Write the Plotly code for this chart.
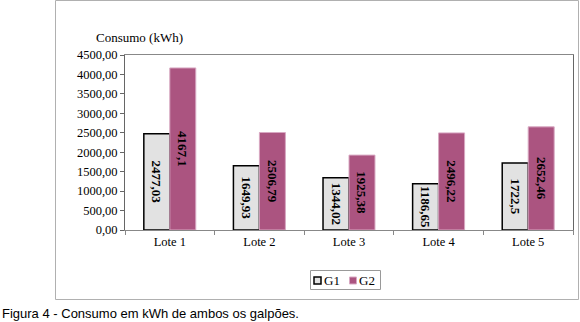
import plotly.graph_objects as go

categories = ["Lote 1", "Lote 2", "Lote 3", "Lote 4", "Lote 5"]
series_names = ["G1", "G2"]
g1_values = [2477.03, 1649.93, 1344.02, 1186.65, 1722.5]
g2_values = [4167.1, 2506.79, 1925.38, 2496.22, 2652.46]
g1_labels = ["2477,03", "1649,93", "1344,02", "1186,65", "1722,5"]
g2_labels = ["4167,1", "2506,79", "1925,38", "2496,22", "2652,46"]

serif = "Liberation Serif, serif"
g1_color, g1_line = "#e2e2e2", "black"
g2_color, g2_line = "#ab5480", "#d8a8c2"

fig = go.Figure()
fig.add_trace(go.Bar(
    x=categories, y=g1_values, name=series_names[0], text=g1_labels,
    textposition="inside", insidetextanchor="middle", textangle=90,
    textfont=dict(family=serif, size=13, color="black", weight=700),
    marker=dict(color=g1_color, line=dict(color=g1_line, width=1.5)),
    showlegend=False,
))
fig.add_trace(go.Bar(
    x=categories, y=g2_values, name=series_names[1], text=g2_labels,
    textposition="inside", insidetextanchor="middle", textangle=90,
    textfont=dict(family=serif, size=13, color="black", weight=700),
    marker=dict(color=g2_color, line=dict(color=g2_line, width=1)),
    showlegend=False,
))

L, R, T, B = 125, 7, 55, 92
W, H = 580, 322
pw, ph = W - L - R, H - T - B

def px(x):
    return (x - L) / pw

def py(y):
    return (H - B - y) / ph

def rect(x0, y0, x1, y1, line, fill, width=1):
    return dict(type="rect", xref="paper", yref="paper",
                x0=px(x0), x1=px(x1), y0=py(y1), y1=py(y0),
                line=dict(color=line, width=width), fillcolor=fill)

shapes = [
    dict(rect(55.5, 0.5, 578.5, 299.5, "#b0b0b0", "rgba(0,0,0,0)"), layer="below"),
    rect(310.5, 270.5, 380.5, 289.5, "#999999", "white"),
    rect(314, 277, 321, 284, g1_line, g1_color, 1.5),
    rect(349.5, 277, 356.5, 284, g2_line, g2_color),
]

annotations = [
    dict(text="Consumo (kWh)", xref="paper", yref="paper",
         x=px(139), y=py(37), xanchor="center", yanchor="middle",
         showarrow=False, font=dict(family=serif, size=13, color="black")),
    dict(text="Figura 4 - Consumo em kWh de ambos os galpões.",
         xref="paper", yref="paper", x=px(0), y=py(313),
         xanchor="left", yanchor="middle", showarrow=False,
         font=dict(family="Liberation Sans", size=13, color="black")),
    dict(text=series_names[0], xref="paper", yref="paper",
         x=px(322), y=py(280.5), xanchor="left", yanchor="middle",
         showarrow=False, font=dict(family=serif, size=13, color="black")),
    dict(text=series_names[1], xref="paper", yref="paper",
         x=px(357), y=py(280.5), xanchor="left", yanchor="middle",
         showarrow=False, font=dict(family=serif, size=13, color="black")),
]

fig.update_layout(
    width=W, height=H,
    margin=dict(l=L, r=R, t=T, b=B, autoexpand=False),
    paper_bgcolor="white", plot_bgcolor="white",
    barmode="group", bargap=0.42, bargroupgap=0,
    separators=",.",
    uniformtext=dict(minsize=13, mode="show"),
    font=dict(family=serif, size=12, color="black"),
    showlegend=False,
    xaxis=dict(
        showline=True, linecolor="#888888", linewidth=1, mirror=True,
        ticks="outside", tickson="boundaries", ticklen=4, tickcolor="#888888",
        tickfont=dict(family=serif, size=12.5, color="black"),
        showgrid=False,
    ),
    yaxis=dict(
        range=[0, 4500], dtick=500, tickformat=".2f",
        showline=True, linecolor="#666666", linewidth=1, mirror=True,
        ticks="outside", ticklen=4, tickcolor="#666666",
        tickfont=dict(family=serif, size=12.5, color="black"),
        showgrid=False, zeroline=False,
    ),
    shapes=shapes,
    annotations=annotations,
)

fig.write_html(
    "out.html",
    config={"displayModeBar": False},
    post_script="document.body.style.margin='0';document.body.style.overflow='hidden';",
)
